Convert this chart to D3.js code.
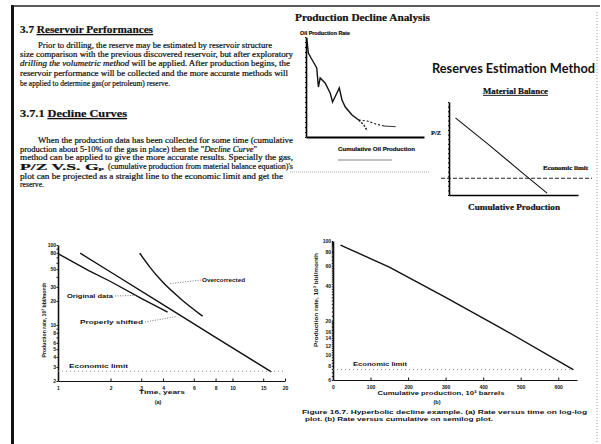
<!DOCTYPE html>
<html>
<head>
<meta charset="utf-8">
<script src="https://cdn.jsdelivr.net/npm/d3@7"></script>
<style>
  body { margin: 0; background: #fff; }
  svg text { fill: #111; }
  .scan text { stroke: #111; stroke-width: 0.2; }
</style>
</head>
<body>
<svg id="page" width="601" height="444"></svg>
<script>
// ---- data ----

// production decline analysis sketch (arbitrary units, 0..100)
const pda_cum = [0.6, 2, 4.3, 7.7, 9.1, 10.5, 12, 16.2, 20.5, 22.5, 26.2, 28.2, 30.5, 33.3, 39, 44.7];
const pda_rate = [99, 84, 79, 72, 69, 50, 59, 54, 44, 35, 44, 49, 37, 30, 22, 17];
const pda_steep_cum = [44.7, 49, 52];
const pda_steep_rate = [17, 12, 6];
const pda_flat_cum = [44.7, 52, 59, 66];
const pda_flat_rate = [17, 16, 13, 11];
const pda_tail_cum = [66, 76];
const pda_tail_rate = [11, 10.3];

// material balance sketch (arbitrary units, 0..100)
const mb_gp = [5, 30, 55, 76];
const mb_pz = [83, 55, 26, 2];
const mb_econ = 18;

// figure (a) rate vs time, log-log
const time_ticks = [1, 2, 3, 4, 6, 8, 10, 15, 20];
const rate_ticks_a = [100, 80, 50, 30, 20, 10, 8, 6, 5, 4, 3, 2];
const original_t = [1, 1.5, 2, 3, 4.25];
const original_q = [78, 48, 35, 21.5, 14.5];
const shifted_t = [1.34, 2, 4, 8, 16.7];
const shifted_q = [79, 46, 18, 7, 2.6];
const over_t = [2.94, 3.36, 3.98, 4.98, 6.74];
const over_q = [79, 53, 34.4, 21.8, 12.9];
const econ_a = 2.65;

// figure (b) rate vs cumulative, semilog
const cum_ticks = [0, 100, 200, 300, 400, 500, 600];
const rate_ticks_b = [100, 80, 60, 40, 20, 16, 14, 12, 10, 8, 6];
const cum_b = [20, 150, 300, 450, 640];
const q_b = [92, 59, 32, 17, 7.4];
const econ_b = 7.4;

const zip = (a, b) => a.map((v, i) => [v, b[i]]);

const svg = d3.select('#page');

// one line of text, squeezed to the width measured on the scan
function put_text(g, parts, x, y, len, size, opts = {}) {
  const t = g.append('text')
    .attr('x', x).attr('y', y)
    .attr('font-size', size)
    .attr('font-family', opts.family || 'Liberation Serif')
    .attr('font-weight', opts.weight || 'normal')
    .attr('text-anchor', opts.anchor || 'start');
  if (opts.transform) t.attr('transform', opts.transform);
  if (typeof parts === 'string') parts = [[parts, '']];
  parts.forEach(p => {
    const s = t.append('tspan').text(p[0]);
    if (p[1].includes('i')) s.attr('font-style', 'italic');
    if (p[1].includes('u')) s.attr('text-decoration', 'underline');
    if (p[1].includes('b')) s.attr('font-weight', 'bold');
    if (p[1].includes('s')) s.attr('font-size', size * 0.55).attr('dy', size * 0.08);
  });
  if (len) t.attr('textLength', len).attr('lengthAdjust', 'spacingAndGlyphs');
  return t;
}

// ---- page frame ----
svg.append('rect').attr('x', 11).attr('y', 5).attr('width', 3).attr('height', 439).attr('fill', '#111');
svg.append('line').attr('x1', 12).attr('x2', 600).attr('y1', 6).attr('y2', 6)
  .attr('stroke', '#222').attr('stroke-width', 1.5);
svg.append('line').attr('x1', 597).attr('x2', 597).attr('y1', 12).attr('y2', 444)
  .attr('stroke', '#999').attr('stroke-dasharray', '1,2');

// ---- text column ----
const txt = svg.append('g').attr('class', 'scan');
put_text(txt, [['3.7 ', 'b'], ['Reservoir Performances', 'bu']], 20, 33, 133, 11);
put_text(txt, 'Prior to drilling, the reserve may be estimated by reservoir structure', 38, 48, 234, 7.5);
put_text(txt, 'size comparison with the previous discovered reservoir, but after exploratory', 20, 57, 273, 7.5);
put_text(txt, [['drilling the volumetric method', 'i'], [' will be applied. After production begins, the', '']], 20, 66, 270, 7.5);
put_text(txt, 'reservoir performance will be collected and the more accurate methods will', 20, 76, 268, 7.5);
put_text(txt, 'be applied to determine gas(or petroleum) reserve.', 20, 86, 150, 7.5);

put_text(txt, [['3.7.1 ', 'b'], ['Decline Curves', 'bu']], 20, 117, 107, 11);
put_text(txt, 'When the production data has been collected for some time (cumulative', 38, 143, 255, 7.5);
put_text(txt, [['production about 5-10% of the gas in place) then the "', ''], ['Decline Curve', 'i'], ['"', '']], 20, 151.5, 237, 7.5);
put_text(txt, 'method can be applied to give the more accurate results. Specially the gas,', 20, 159.5, 273, 7.5);
put_text(txt, [['P/Z  V.S.  G', ''], ['p', 's']], 20, 169.5, 84, 9, { weight: 'bold' });
put_text(txt, "(cumulative production from material balance equation)'s", 108, 169, 185, 7.5);
put_text(txt, 'plot can be projected as a straight line to the economic limit and get the', 20, 178.5, 263, 7.5);
put_text(txt, 'reserve.', 20, 187, 24, 7.5);

// ---- production decline analysis sketch ----
const pda = {
  x: d3.scaleLinear().domain([0, 100]).range([306, 424]),
  y: d3.scaleLinear().domain([0, 100]).range([137, 37])
};
const gp = svg.append('g').attr('class', 'scan');
put_text(gp, 'Production Decline Analysis', 295, 21, 135, 10, { weight: 'bold' });
put_text(gp, 'Oil Production Rate', 300, 35, 50, 5, { weight: 'bold', family: 'Liberation Sans' });
gp.append('g').attr('transform', `translate(${pda.x(0)},0)`)
  .call(d3.axisLeft(pda.y).ticks(25).tickSize(1).tickSizeOuter(0).tickFormat(''))
  .call(g => g.select('.domain').attr('stroke-width', 1.6));
gp.append('g').attr('transform', `translate(0,${pda.y(0)})`)
  .call(d3.axisBottom(pda.x).ticks(0).tickSizeOuter(0))
  .call(g => g.select('.domain').attr('stroke-width', 2));
const pda_line = d3.line().x(d => pda.x(d[0])).y(d => pda.y(d[1]));
gp.append('path').attr('d', pda_line(zip(pda_cum, pda_rate)))
  .attr('fill', 'none').attr('stroke', '#111').attr('stroke-width', 1.4);
gp.append('path').attr('d', pda_line(zip(pda_steep_cum, pda_steep_rate)))
  .attr('fill', 'none').attr('stroke', '#111').attr('stroke-width', 1.4).attr('stroke-dasharray', '2,1.5');
gp.append('path').attr('d', pda_line(zip(pda_flat_cum, pda_flat_rate)))
  .attr('fill', 'none').attr('stroke', '#111').attr('stroke-width', 1.1).attr('stroke-dasharray', '2,2');
gp.append('path').attr('d', pda_line(zip(pda_tail_cum, pda_tail_rate)))
  .attr('fill', 'none').attr('stroke', '#333').attr('stroke-width', 1);
put_text(gp, 'Cumulative Oil Production', 338, 151, 77, 5.5, { weight: 'bold', family: 'Liberation Sans' });
gp.append('line').attr('x1', 338).attr('x2', 392).attr('y1', 160).attr('y2', 160)
  .attr('stroke', '#666').attr('stroke-width', 0.8);
gp.append('line').attr('x1', 290).attr('x2', 430).attr('y1', 172).attr('y2', 172)
  .attr('stroke', '#888').attr('stroke-width', 0.7).attr('stroke-dasharray', '1,1');

// ---- reserves estimation / material balance ----
const mb = {
  x: d3.scaleLinear().domain([0, 100]).range([449, 578]),
  y: d3.scaleLinear().domain([0, 100]).range([195, 102])
};
const gm = svg.append('g');
put_text(gm, 'Reserves Estimation Method', 595, 73, 163, 13, { weight: 'bold', family: 'Lato', anchor: 'end' });
const gm2 = gm.append('g').attr('class', 'scan');
put_text(gm2, [['Material Balance', 'u']], 483, 94, 65, 7.5, { weight: 'bold' });
gm.append('g').attr('transform', `translate(${mb.x(0)},0)`)
  .call(d3.axisLeft(mb.y).ticks(25).tickSize(1).tickSizeOuter(0).tickFormat(''))
  .call(g => g.select('.domain').attr('stroke-width', 1.6));
gm.append('g').attr('transform', `translate(0,${mb.y(0)})`)
  .call(d3.axisBottom(mb.x).ticks(0).tickSizeOuter(0))
  .call(g => g.select('.domain').attr('stroke-width', 1.6));
gm.append('path').attr('d', d3.line().x(d => mb.x(d[0])).y(d => mb.y(d[1]))(zip(mb_gp, mb_pz)))
  .attr('fill', 'none').attr('stroke', '#111').attr('stroke-width', 1.1);
gm.append('line')
  .attr('x1', mb.x.range()[0] - 8).attr('x2', mb.x.range()[1] + 14)
  .attr('y1', mb.y(mb_econ)).attr('y2', mb.y(mb_econ))
  .attr('stroke', '#222').attr('stroke-width', 1).attr('stroke-dasharray', '4,2');
put_text(gm2, 'P/Z', 431, 135, 10, 6.5, { weight: 'bold' });
put_text(gm2, 'Economic limit', 543, 170, 45, 6, { weight: 'bold' });
put_text(gm2, 'Cumulative Production', 468, 210, 92, 8, { weight: 'bold' });

// ---- shared style for the two scanned figures ----
function style_axis(g, w) {
  g.select('.domain').attr('stroke-width', w).attr('stroke', '#111');
  g.selectAll('.tick line').attr('stroke', '#111');
  g.selectAll('.tick text').attr('font-size', 5).attr('font-weight', 'bold')
    .attr('font-family', 'Liberation Sans').attr('fill', '#111');
}
const curve_line = (sx, sy) => d3.line().x(d => sx(d[0])).y(d => sy(d[1]));
const lbl = { weight: 'bold', family: 'Liberation Sans' };

// ---- figure (a) ----
const fa = {
  x: d3.scaleLog().domain([1, 20]).range([58, 285]),
  y: d3.scaleLog().domain([2, 100]).range([381, 245])
};
const ga = svg.append('g');
ga.append('g').attr('transform', `translate(${fa.x.range()[0]},0)`)
  .call(d3.axisLeft(fa.y).tickValues(fa.y.ticks()).tickSize(1.5).tickSizeOuter(0).tickFormat(''))
  .call(g => style_axis(g, 1.6));
ga.append('g').attr('transform', `translate(${fa.x.range()[0]},0)`)
  .call(d3.axisLeft(fa.y).tickValues(rate_ticks_a).tickFormat(d3.format('d')).tickSize(0).tickPadding(2))
  .call(g => style_axis(g, 0));
ga.append('g').attr('transform', `translate(0,${fa.y.range()[0]})`)
  .call(d3.axisBottom(fa.x).tickValues(time_ticks).tickFormat(d3.format('d')).tickSize(-2.5).tickPadding(5).tickSizeOuter(0))
  .call(g => style_axis(g, 1.2));
const la = curve_line(fa.x, fa.y);
ga.append('path').attr('d', la(zip(original_t, original_q)))
  .attr('fill', 'none').attr('stroke', '#111').attr('stroke-width', 1.4);
ga.append('path').attr('d', la(zip(shifted_t, shifted_q)))
  .attr('fill', 'none').attr('stroke', '#111').attr('stroke-width', 1.4);
ga.append('path').attr('d', la.curve(d3.curveMonotoneX)(zip(over_t, over_q)))
  .attr('fill', 'none').attr('stroke', '#111').attr('stroke-width', 1.4);
ga.append('line')
  .attr('x1', fa.x.range()[0]).attr('x2', fa.x.range()[1])
  .attr('y1', fa.y(econ_a)).attr('y2', fa.y(econ_a))
  .attr('stroke', '#777').attr('stroke-width', 0.9).attr('stroke-dasharray', '1,3');
// leaders
const leader = (g, x1, y1, x2, y2) => g.append('line')
  .attr('x1', x1).attr('y1', y1).attr('x2', x2).attr('y2', y2)
  .attr('stroke', '#555').attr('stroke-width', 0.8).attr('stroke-dasharray', '1,1.5');
leader(ga, 115, 296, fa.x(2.8), fa.y(23.5));
leader(ga, 145, 322, fa.x(4.8), fa.y(12.8));
leader(ga, fa.x(4.4), fa.y(33), 201, 280);
put_text(ga, 'Original data', 67, 298, 46, 5.5, lbl);
put_text(ga, 'Properly shifted', 80, 324, 63, 5.5, lbl);
put_text(ga, 'Overcorrected', 202, 282, 43, 5.5, lbl);
put_text(ga, 'Economic limit', 69, 368, 59, 5.5, lbl);
put_text(ga, 'Time, years', 162, 394, 46, 5.5, { ...lbl, anchor: 'middle' });
put_text(ga, '(a)', 158, 404, 0, 5.5, { ...lbl, anchor: 'middle' });
put_text(ga, 'Production rate, 10\u00b3 bbl/month', 0, 0, 75, 5.5,
  { ...lbl, anchor: 'middle', transform: 'translate(46,320) rotate(-90)' });

// ---- figure (b) ----
const fb = {
  x: d3.scaleLinear().domain([0, 650]).range([333, 577]),
  y: d3.scaleLog().domain([6, 100]).range([380, 241])
};
const gb = svg.append('g');
gb.append('g').attr('transform', `translate(${fb.x.range()[0]},0)`)
  .call(d3.axisLeft(fb.y).tickValues(d3.range(6, 20, 0.5).concat(d3.range(20, 101, 2))).tickSize(1.2).tickSizeOuter(0).tickFormat(''))
  .call(g => style_axis(g, 1.6));
gb.append('g').attr('transform', `translate(${fb.x.range()[0]},0)`)
  .call(d3.axisLeft(fb.y).tickValues(rate_ticks_b).tickFormat(d3.format('d')).tickSize(0).tickPadding(2))
  .call(g => style_axis(g, 0));
gb.append('g').attr('transform', `translate(0,${fb.y.range()[0]})`)
  .call(d3.axisBottom(fb.x).tickValues(cum_ticks).tickSize(-2.5).tickPadding(5).tickSizeOuter(0))
  .call(g => style_axis(g, 1.2));
gb.append('path').attr('d', curve_line(fb.x, fb.y)(zip(cum_b, q_b)))
  .attr('fill', 'none').attr('stroke', '#111').attr('stroke-width', 1.4);
gb.append('line')
  .attr('x1', fb.x.range()[0]).attr('x2', fb.x.range()[1])
  .attr('y1', fb.y(econ_b)).attr('y2', fb.y(econ_b))
  .attr('stroke', '#777').attr('stroke-width', 0.9).attr('stroke-dasharray', '1,3');
put_text(gb, 'Economic limit', 353, 366, 54, 5.5, lbl);
put_text(gb, 'Cumulative production, 10\u00b3 barrels', 441, 395, 127, 5.5, { ...lbl, anchor: 'middle' });
put_text(gb, '(b)', 437, 404, 0, 5.5, { ...lbl, anchor: 'middle' });
put_text(gb, 'Production rate, 10\u00b3 bbl/month', 0, 0, 94, 5.5,
  { ...lbl, anchor: 'middle', transform: 'translate(318,300) rotate(-90)' });
put_text(gb, 'Figure 16.7. Hyperbolic decline example. (a) Rate versus time on log-log', 302, 414, 285, 5.8, lbl);
put_text(gb, 'plot. (b) Rate versus cumulative on semilog plot.', 305, 421, 188, 5.8, lbl);
</script>
</body>
</html>
